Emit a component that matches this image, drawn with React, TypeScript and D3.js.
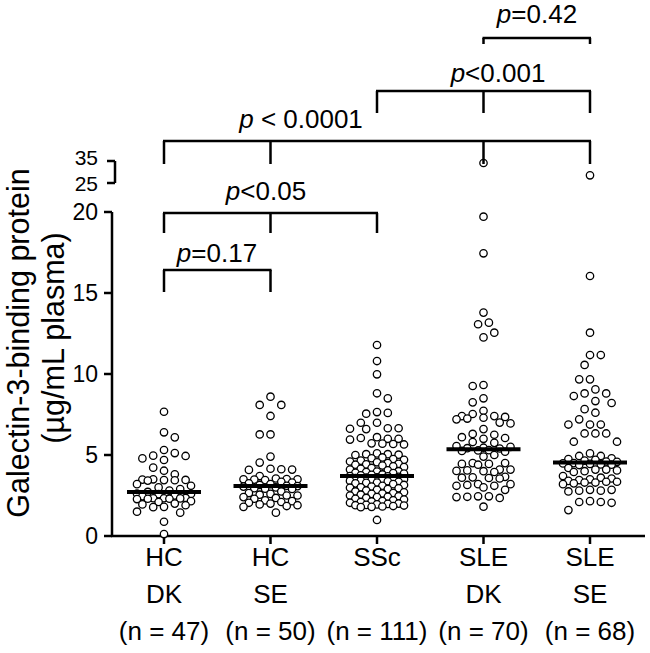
import React from "react";
import * as d3 from "d3";

const categories = ["HC DK", "HC SE", "SSc", "SLE DK", "SLE SE"];
const labelLine1 = ["HC", "HC", "SSc", "SLE", "SLE"];
const labelLine2 = ["DK", "SE", "", "DK", "SE"];
const labelLine3 = ["(n = 47)", "(n = 50)", "(n = 111)", "(n = 70)", "(n = 68)"];
const lowTicks = [0, 5, 10, 15, 20];
const highTicks = [25, 35];

const hcDK = [7.67, 6.4, 6.09, 5.31, 5.12, 4.96, 4.94, 4.79, 4.69, 4.22, 4.03, 3.81, 3.5, 3.48, 3.46, 3.45, 3.44, 3.42, 3.2, 3.1, 3.0, 2.9, 2.8, 2.72, 2.62, 2.6, 2.58, 2.5, 2.45, 2.35, 2.33, 2.33, 2.32, 2.3, 2.3, 2.28, 2.15, 2.1, 2.0, 1.95, 1.9, 1.8, 1.78, 1.5, 1.44, 0.88, 0.12];
const hcSE = [8.6, 8.09, 8.09, 7.41, 6.27, 6.27, 4.9, 4.53, 4.15, 4.12, 4.1, 4.08, 3.7, 3.55, 3.52, 3.5, 3.5, 3.48, 3.45, 3.35, 3.3, 3.25, 3.2, 3.15, 3.1, 3.08, 3.05, 3.0, 2.95, 2.92, 2.9, 2.75, 2.65, 2.6, 2.55, 2.5, 2.5, 2.4, 2.35, 2.3, 2.2, 2.15, 2.1, 2.05, 2.0, 1.95, 1.9, 1.85, 1.8, 1.44];
const ssc = [11.79, 10.8, 9.98, 8.81, 8.5, 7.65, 7.6, 7.55, 6.99, 6.99, 6.65, 6.65, 6.6, 6.62, 6.05, 6.0, 6.1, 6.0, 5.95, 5.72, 5.7, 5.68, 5.65, 5.1, 5.05, 5.05, 5.0, 5.02, 4.85, 4.8, 4.75, 4.7, 4.65, 4.6, 4.55, 4.5, 4.45, 4.42, 4.4, 4.35, 4.3, 4.25, 4.2, 4.15, 4.1, 4.05, 4.0, 3.98, 3.95, 3.9, 3.88, 3.85, 3.8, 3.78, 3.75, 3.7, 3.68, 3.65, 3.62, 3.6, 3.58, 3.55, 3.5, 3.48, 3.45, 3.42, 3.4, 3.38, 3.35, 3.3, 3.28, 3.25, 3.2, 3.15, 3.1, 3.05, 3.0, 2.98, 2.95, 2.9, 2.85, 2.8, 2.75, 2.7, 2.65, 2.6, 2.55, 2.5, 2.45, 2.4, 2.35, 2.3, 2.25, 2.2, 2.15, 2.1, 2.05, 2.0, 1.98, 1.95, 1.92, 1.9, 1.88, 1.85, 1.82, 1.8, 1.78, 2.42, 2.62, 2.12, 0.99];
const sleDK = [34.1, 19.71, 17.45, 13.79, 13.17, 13.07, 12.55, 12.26, 9.32, 9.26, 8.5, 8.25, 7.73, 7.53, 7.4, 7.4, 7.35, 7.3, 7.25, 7.2, 7.0, 6.95, 6.6, 6.3, 6.25, 6.1, 6.05, 6.0, 5.8, 5.75, 5.55, 5.5, 5.45, 5.42, 5.4, 5.3, 5.28, 5.25, 5.2, 5.0, 4.9, 4.5, 4.5, 4.45, 4.45, 4.4, 4.1, 4.1, 4.05, 4.02, 4.0, 3.95, 3.65, 3.62, 3.6, 3.58, 3.55, 3.2, 3.2, 3.15, 3.1, 3.1, 3.0, 2.85, 2.45, 2.45, 2.42, 2.4, 2.35, 1.81];
const sleSE = [28.5, 16.05, 12.55, 11.17, 11.17, 10.56, 9.67, 9.67, 9.05, 8.8, 8.8, 8.64, 8.33, 8.21, 7.83, 7.61, 7.2, 6.88, 6.88, 6.88, 6.33, 6.33, 6.33, 5.82, 5.82, 5.1, 4.94, 4.94, 4.8, 4.75, 4.7, 4.65, 4.6, 4.58, 4.5, 4.48, 4.45, 4.42, 4.4, 4.38, 4.2, 4.1, 4.1, 4.05, 4.0, 3.95, 3.7, 3.6, 3.55, 3.5, 3.45, 3.4, 3.35, 3.35, 3.3, 3.3, 3.25, 3.2, 2.85, 2.85, 2.8, 2.8, 2.75, 2.15, 2.1, 2.1, 2.05, 1.6];
const groups = [hcDK, hcSE, ssc, sleDK, sleSE];

const comparisons = [
  { ticks: [0, 1], op: "=0.17" },
  { ticks: [0, 1, 2], op: "<0.05" },
  { ticks: [0, 1, 3, 4], op: " < 0.0001" },
  { ticks: [2, 3, 4], op: "<0.001" },
  { ticks: [3, 4], op: "=0.42" },
];

// layout (pixels)
const bracketLayout = [
  { y: 270, drop: 22, labelY: 262, labelX: 217 },
  { y: 213, drop: 20, labelY: 200, labelX: 266 },
  { y: 141, drop: 23, labelY: 128, labelX: 301 },
  { y: 91, drop: 22, labelY: 82, labelX: 498 },
  { y: 38, drop: 6, labelY: 23, labelX: 537 },
];

const FONT = "'Liberation Sans', Arial, Helvetica, sans-serif";
const AXIS_X = 112;
const AXIS_Y = 536;

const yLow = d3.scaleLinear().domain([0, 20]).range([AXIS_Y, 212]);
const yHigh = d3.scaleLinear().domain([25, 35]).range([183, 161]);
const yOf = (v: number) => (v <= 22 ? yLow(v) : yHigh(v));
const x = d3.scalePoint<string>().domain(categories).range([164, 590]);

function swarm(values: number[], D = 10.4, maxOff = 29, step = 5.4) {
  const pts = values.map((v) => ({ v, y: yOf(v) })).sort((a, b) => a.y - b.y);
  const cands: number[] = [0];
  for (let k = 1; k * step <= maxOff + 0.01; k++) {
    cands.push(k * step, -k * step);
  }
  const placed: { x: number; y: number; v: number }[] = [];
  let flip = 1;
  for (const p of pts) {
    let best: number | null = null;
    for (const c0 of cands) {
      const c = c0 * flip;
      const ok = placed.every((q) => (q.x - c) ** 2 + (q.y - p.y) ** 2 >= D * D);
      if (ok) {
        best = c;
        break;
      }
    }
    if (best === null) {
      let bestD = -1;
      for (const c of cands) {
        const md = d3.min(placed, (q) => (q.x - c) ** 2 + (q.y - p.y) ** 2) ?? 1e9;
        if (md > bestD) {
          bestD = md;
          best = c;
        }
      }
    }
    flip = -flip;
    placed.push({ x: best as number, y: p.y, v: p.v });
  }
  return placed;
}

export default function App() {
  const W = 650;
  const H = 653;
  return (
    <svg
      width={W}
      height={H}
      style={{ position: "absolute", left: 0, top: 0, background: "#fff" }}
      fontFamily={FONT}
    >
      <rect width={W} height={H} fill="#fff" />
      {/* Y axis title */}
      <g fontSize={30.5} textAnchor="middle" fill="#000">
        <text transform={`translate(29,343) rotate(-90)`}>Galectin-3-binding protein</text>
        <text transform={`translate(64,338) rotate(-90)`}>(µg/mL plasma)</text>
      </g>
      {/* y axis (broken) */}
      <g stroke="#000" strokeWidth={2.5} fill="none">
        <line x1={AXIS_X} x2={AXIS_X} y1={AXIS_Y} y2={yLow(20)} />
        {lowTicks.map((t) => (
          <line key={t} x1={AXIS_X - 8} x2={AXIS_X} y1={yLow(t)} y2={yLow(t)} />
        ))}
        <line x1={AXIS_X + 3} x2={AXIS_X + 3} y1={yHigh(25)} y2={yHigh(35)} />
        {highTicks.map((t) => (
          <line key={t} x1={AXIS_X - 5} x2={AXIS_X + 3} y1={yHigh(t)} y2={yHigh(t)} />
        ))}
      </g>
      <g fontSize={23} textAnchor="end" fill="#000">
        {lowTicks.map((t) => (
          <text key={t} x={AXIS_X - 14} y={yLow(t)} dy="0.36em">
            {t}
          </text>
        ))}
      </g>
      <g fontSize={21} textAnchor="end" fill="#000">
        {highTicks.map((t, i) => (
          <text key={t} x={AXIS_X - 14} y={yHigh(t) + (i === 0 ? 0 : -4)} dy="0.36em">
            {t}
          </text>
        ))}
      </g>
      {/* x axis */}
      <g stroke="#000" strokeWidth={2.5}>
        <line x1={AXIS_X - 1} x2={645} y1={AXIS_Y} y2={AXIS_Y} />
        {categories.map((c) => (
          <line key={c} x1={x(c)} x2={x(c)} y1={AXIS_Y} y2={AXIS_Y + 8} />
        ))}
      </g>
      <g textAnchor="middle" fill="#000" fontSize={26}>
        {categories.map((c, i) => (
          <g key={c}>
            <text x={x(c)} y={566}>{labelLine1[i]}</text>
            <text x={x(c)} y={603}>{labelLine2[i]}</text>
            <text x={x(c)} y={640}>{labelLine3[i]}</text>
          </g>
        ))}
      </g>
      {/* points */}
      {groups.map((vals, gi) => {
        const cx = x(categories[gi]) as number;
        const pts = swarm(vals);
        const med = d3.median(vals) as number;
        return (
          <g key={gi}>
            {pts.map((p, i) => (
              <circle key={i} cx={cx + p.x} cy={p.y} r={3.7} fill="#fff" stroke="#000" strokeWidth={1.3} />
            ))}
            <line x1={cx - 37} x2={cx + 37} y1={yLow(med)} y2={yLow(med)} stroke="#000" strokeWidth={4} />
          </g>
        );
      })}
      {/* brackets */}
      {comparisons.map((c, i) => {
        const L = bracketLayout[i];
        const xs = c.ticks.map((t) => x(categories[t]) as number);
        return (
          <g key={i}>
            <g stroke="#000" strokeWidth={2.5} fill="none">
              <line x1={xs[0] - 1} x2={xs[xs.length - 1] + 1} y1={L.y} y2={L.y} />
              {xs.map((xx, k) => (
                <line key={k} x1={xx} x2={xx} y1={L.y} y2={L.y + L.drop} />
              ))}
            </g>
            <text x={L.labelX} y={L.labelY} fontSize={26} textAnchor="middle" fill="#000">
              <tspan fontStyle="italic">p</tspan>
              <tspan>{c.op}</tspan>
            </text>
          </g>
        );
      })}
    </svg>
  );
}
